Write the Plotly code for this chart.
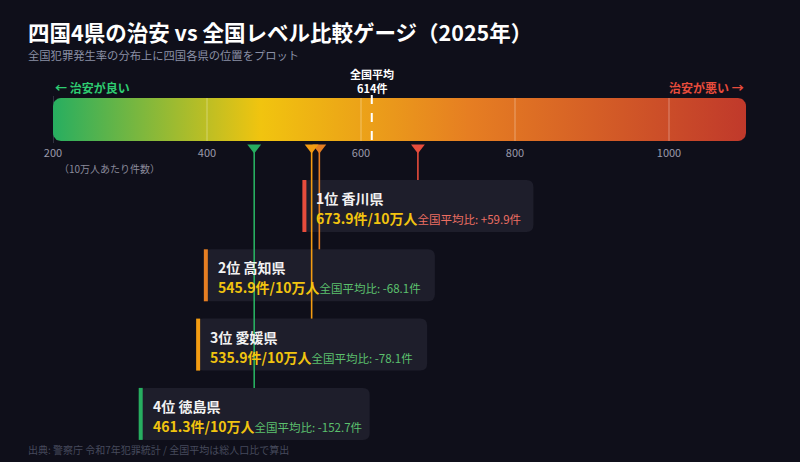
import numpy as np
import plotly.graph_objects as go

# 四国4県の犯罪発生率（10万人あたり件数）
ranks = [1, 2, 3, 4]
prefectures = ["香川県", "高知県", "愛媛県", "徳島県"]
rates = [673.9, 545.9, 535.9, 461.3]
national_avg = 614
tick_vals = [200, 400, 600, 800, 1000]
gauge_min, gauge_max = 200, 1100

colors = ["#e74c3c", "#e67e22", "#f39c12", "#27ae60"]
FONT = "Noto Sans CJK JP"
BG = "#0f0f1a"

W, H = 800, 462
ML, MR = 53, 54
unit = (W - ML - MR) / (gauge_max - gauge_min)   # px per 件

# ゲージ縦位置（px, 上から）
bar_top, bar_bot = 98, 141
box_top0, box_step, box_h = 180, 69.3, 52
box_half = 150   # 件単位の半幅


def rounded_poly(x0, x1, y0, y1, r_px, n=8):
    rx, ry = r_px / unit, r_px
    t = np.linspace(0, np.pi / 2, n)
    xs, ys = [], []
    for cx, cy, a0 in [(x1 - rx, y0 + ry, -np.pi / 2), (x1 - rx, y1 - ry, 0),
                       (x0 + rx, y1 - ry, np.pi / 2), (x0 + rx, y0 + ry, np.pi)]:
        xs += list(cx + rx * np.cos(a0 + t))
        ys += list(cy + ry * np.sin(a0 + t))
    return xs + [xs[0]], ys + [ys[0]]


def rounded_path(x0, x1, y0, y1, r_px):
    rx, ry = r_px / unit, r_px
    return (f"M{x0+rx},{y0} L{x1-rx},{y0} Q{x1},{y0} {x1},{y0+ry} "
            f"L{x1},{y1-ry} Q{x1},{y1} {x1-rx},{y1} L{x0+rx},{y1} "
            f"Q{x0},{y1} {x0},{y1-ry} L{x0},{y0+ry} Q{x0},{y0} {x0+rx},{y0} Z")


fig = go.Figure()

gx, gy = rounded_poly(gauge_min, gauge_max, bar_top, bar_bot, 8)
fig.add_trace(go.Scatter(
    x=gx, y=gy, mode="lines", fill="toself", line=dict(width=0),
    fillgradient=dict(type="horizontal", colorscale=[
        [0, "#27ae60"], [0.3, "#f1c40f"], [0.6, "#e67e22"], [1, "#c0392b"]]),
    hoverinfo="skip"))

fig.add_trace(go.Scatter(
    x=rates, y=[147.5] * len(rates), mode="markers",
    marker=dict(symbol="triangle-down", size=12, color=colors, line=dict(width=0)),
    hoverinfo="skip"))

shapes = []
# 目盛り線（ゲージ内）
shapes.append(dict(type="line", x0=gauge_min, x1=gauge_min, y0=bar_top - 2, y1=bar_bot + 2,
                   line=dict(color="#555566", width=1), layer="below"))
for v in tick_vals[1:]:
    shapes.append(dict(type="line", x0=v, x1=v, y0=bar_top, y1=bar_bot,
                       line=dict(color="rgba(255,255,255,0.35)", width=1)))
# 全国平均
shapes.append(dict(type="line", x0=national_avg, x1=national_avg, y0=95, y1=bar_bot,
                   line=dict(color="white", width=2, dash="dash")))

annotations = []
for i, (rk, name, val, c) in enumerate(zip(ranks, prefectures, rates, colors)):
    top = box_top0 + i * box_step
    x0, x1 = val - box_half, val + box_half
    shapes.append(dict(type="path", path=rounded_path(x0, x1, top, top + box_h, 7),
                       fillcolor="#1e1e2b", line=dict(width=0), layer="below"))
    shapes.append(dict(type="rect", x0=x0, x1=x0 + 4 / unit, y0=top, y1=top + box_h,
                       fillcolor=c, line=dict(width=0), layer="below"))
    diff = val - national_avg
    dcol = "#ec6f63" if diff > 0 else "#5cc06e"
    annotations.append(dict(
        x=x0, y=top + 18, xref="x", yref="y", xanchor="left", yanchor="middle",
        xshift=12, showarrow=False, text=f"<b>{rk}位 {name}</b>",
        font=dict(family=FONT, size=14, color="#f2f2f2")))
    annotations.append(dict(
        x=x0, y=top + 38, xref="x", yref="y", xanchor="left", yanchor="middle",
        xshift=12, showarrow=False,
        text=(f"<b>{val:.1f}件/10万人</b>"
              f"<span style='font-size:11.5px;color:{dcol}'>全国平均比: {diff:+.1f}件</span>"),
        font=dict(family=FONT, size=14, color="#f1c40f")))

for i, (val, c) in enumerate(zip(rates, colors)):
    top = box_top0 + i * box_step
    shapes.append(dict(type="line", x0=val, x1=val, y0=150, y1=top,
                       line=dict(color=c, width=1.6)))

annotations += [
    dict(x=26, y=31.5, xref="paper", yref="y", xanchor="left", yanchor="middle",
         text="<b>四国4県の治安 vs 全国レベル比較ゲージ（2025年）</b>",
         font=dict(family=FONT, size=21.5, color="white")),
    dict(x=26, y=55, xref="paper", yref="y", xanchor="left", yanchor="middle",
         text="全国犯罪発生率の分布上に四国各県の位置をプロット",
         font=dict(family=FONT, size=11.3, color="#8a8fa5")),
    dict(x=gauge_min, y=87, xref="x", yref="y", xanchor="left", yanchor="middle",
         text="<b>← 治安が良い</b>", font=dict(family=FONT, size=12, color="#2ecc71")),
    dict(x=gauge_max, y=87, xref="x", yref="y", xanchor="right", yanchor="middle",
         text="<b>治安が悪い →</b>", font=dict(family=FONT, size=12, color="#e74c3c")),
    dict(x=national_avg, y=73.5, xref="x", yref="y", xanchor="center", yanchor="middle",
         text="<b>全国平均</b>", font=dict(family=FONT, size=11, color="white")),
    dict(x=national_avg, y=87.5, xref="x", yref="y", xanchor="center", yanchor="middle",
         text=f"<b>{national_avg}件</b>", font=dict(family=FONT, size=11, color="white")),
    dict(x=gauge_min, y=168, xref="x", yref="y", xanchor="left", yanchor="middle",
         xshift=4, text="（10万人あたり件数）",
         font=dict(family=FONT, size=10, color="#8a8a9a")),
    dict(x=26, y=449, xref="paper", yref="y", xanchor="left", yanchor="middle",
         text="出典: 警察庁 令和7年犯罪統計 / 全国平均は総人口比で算出",
         font=dict(family=FONT, size=10, color="#464a5c")),
]
for a in annotations:
    a.setdefault("showarrow", False)
    if a["xref"] == "paper":
        a["x"] = (a["x"] - ML) / (W - ML - MR)

fig.update_layout(
    width=W, height=H,
    margin=dict(l=ML, r=MR, t=0, b=0),
    paper_bgcolor=BG, plot_bgcolor=BG,
    showlegend=False,
    shapes=shapes, annotations=annotations,
    xaxis=dict(range=[gauge_min, gauge_max], tickvals=tick_vals,
               tickfont=dict(family=FONT, size=11, color="#9a9aaa"),
               anchor="free", position=1 - 145 / H,
               showgrid=False, zeroline=False, showline=False, ticks=""),
    yaxis=dict(range=[H, 0], visible=False),
)

fig.write_html("out.html", config={"displayModeBar": False},
               post_script="document.body.style.margin='0';")
